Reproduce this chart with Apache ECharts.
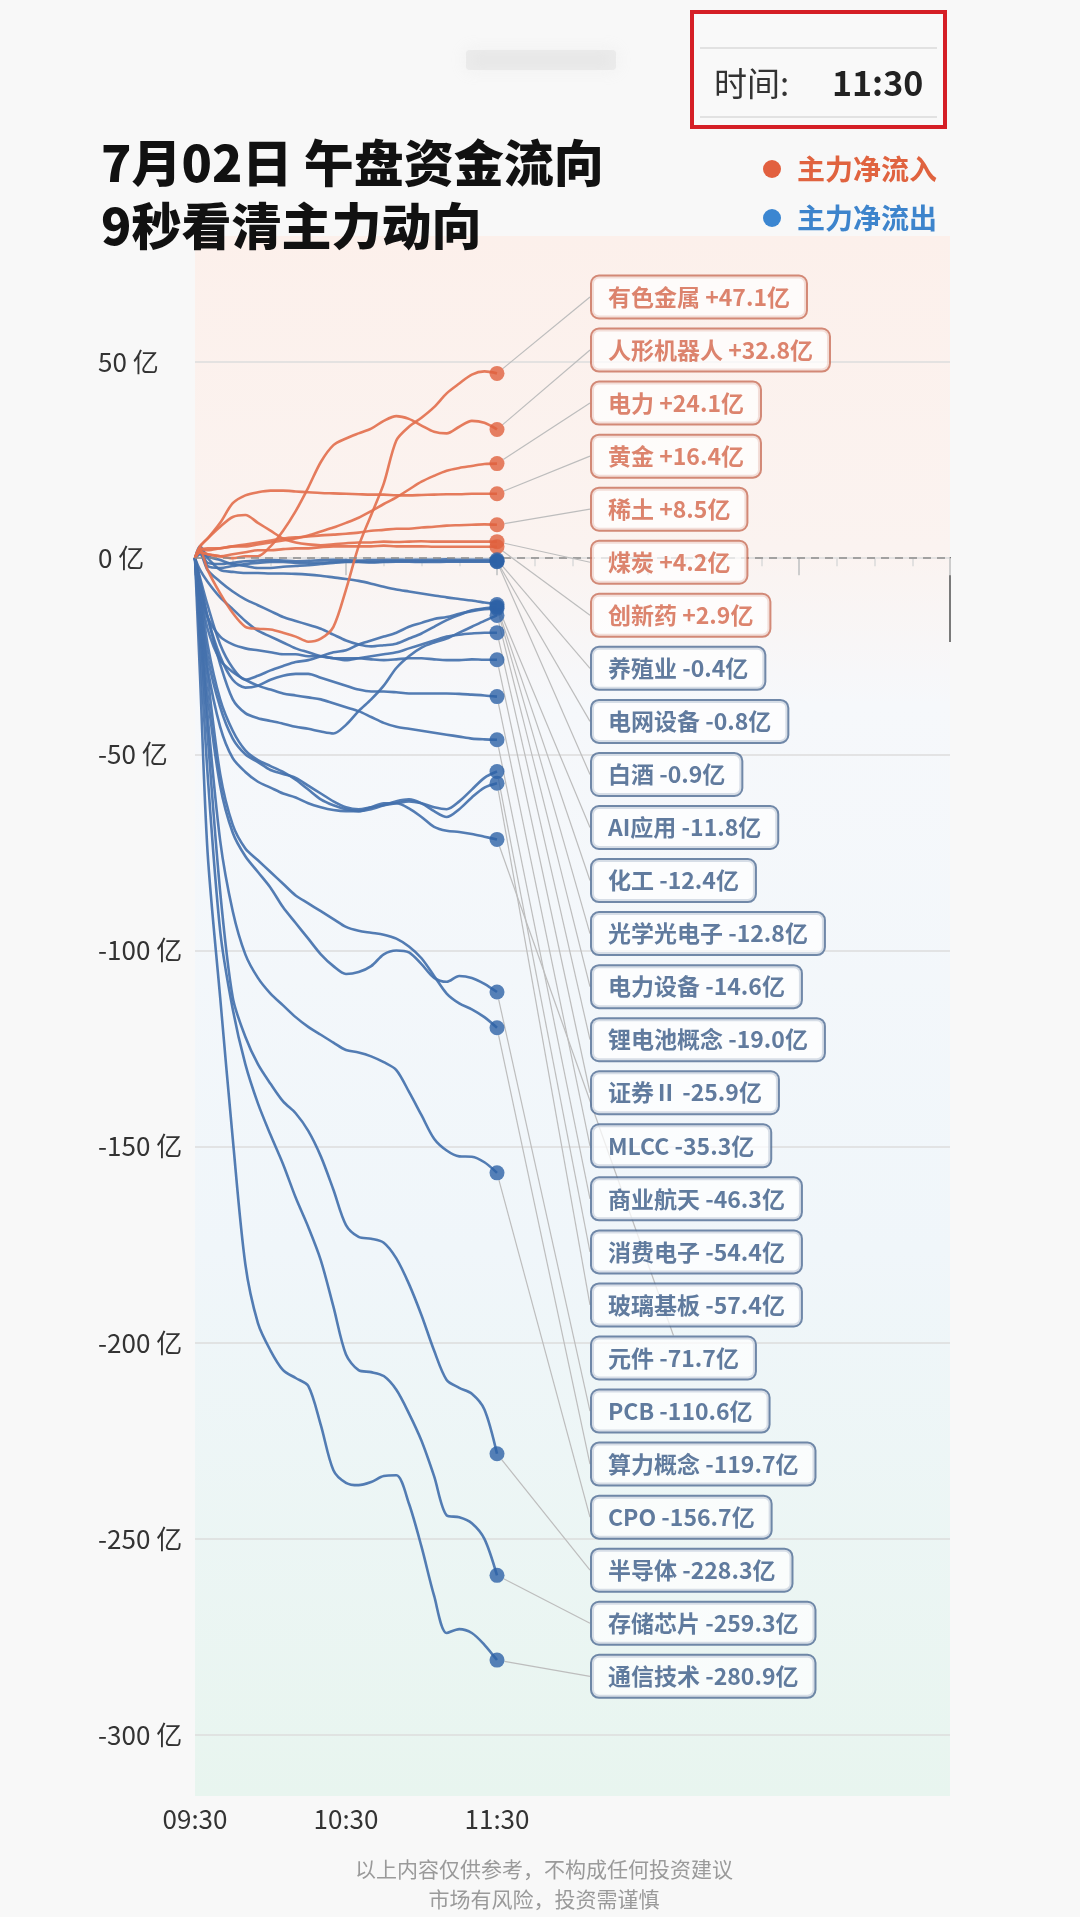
<!DOCTYPE html>
<html>
<head>
<meta charset="utf-8">
<title>7月02日 午盘资金流向</title>
<script src="https://cdn.jsdelivr.net/npm/echarts@6/dist/echarts.min.js"></script>
<style>
  html, body { margin: 0; padding: 0; background: #f8f8f8; }
  #main { width: 1080px; height: 1917px; }
</style>
</head>
<body>
<div id="main"></div>
<script>
// 横轴：从 09:30 起算的分钟数
const times = [0, 2, 5, 10, 15, 20, 25, 30, 35, 40, 45, 50, 55, 60, 65, 70, 75, 80, 85, 90, 95, 100, 105, 110, 115, 120];
const xTickLabels = ['09:30', '10:30', '11:30'];
const yTicks = [50, 0, -50, -100, -150, -200, -250, -300];

// 各板块主力净额（亿）
const youseJinshu = [0, 2, -3, -9, -14, -17.5, -18, -18.2, -19, -20, -21.3, -20.5, -17.5, -8, 3, 11, 19, 30, 33.5, 35.8, 38.5, 42, 44.5, 46.8, 47.6, 47.1];
const renxingJiqiren = [0, 1.5, 1, 0.5, 0, 0.5, 0.5, 3, 7, 12, 18, 24.5, 28.8, 30.5, 31.8, 33, 35, 36.2, 35.5, 33.8, 32.2, 31.8, 33.5, 35, 34.5, 32.8];
const dianli = [0, 2, 2.5, 2.5, 3, 3, 3.5, 4, 4.5, 5, 5.8, 6.8, 7.8, 9, 10.3, 12, 13.8, 15.5, 17.5, 19.5, 21, 22.3, 23, 23.5, 24, 24.1];
const huangjin = [0, 3, 5, 9, 14, 16, 16.8, 17.2, 17.2, 17, 16.8, 16.6, 16.5, 16.4, 16.3, 16.2, 16.2, 16, 16, 16.1, 16.2, 16.3, 16.3, 16.4, 16.4, 16.4];
const xitu = [0, 2.5, 2, 2.5, 3, 3.5, 4, 4.5, 5, 5.3, 5.5, 5.8, 6, 6.2, 6.5, 7, 7.2, 7.5, 7.5, 7.8, 8, 8.3, 8.4, 8.5, 8.6, 8.5];
const meitan = [0, 3, 5, 8, 10.5, 11, 9, 7, 5, 4, 3.5, 3.3, 3.5, 3.8, 4, 4, 4.2, 4.1, 4.2, 4.3, 4.2, 4.2, 4.2, 4.2, 4.2, 4.2];
const chuangxinyao = [0, 1.5, 1, 0.5, 1, 1.5, 2, 2, 2.3, 2.5, 2.5, 2.8, 3, 3, 3, 3, 3.2, 3, 3, 3, 2.9, 2.9, 2.9, 2.9, 2.9, 2.9];
const yangzhiye = [0, 2, -1.2, -1.5, -1.2, -0.8, -0.6, -0.5, -0.6, -0.8, -0.7, -0.5, -0.4, -0.5, -0.6, -0.5, -0.4, -0.4, -0.5, -0.4, -0.4, -0.3, -0.4, -0.4, -0.4, -0.4];
const dianwangShebei = [0, 1.5, -2, -2.5, -2, -1.5, -1.2, -1, -1, -1.2, -1.3, -1.1, -1, -0.9, -0.9, -1, -0.9, -0.8, -0.8, -0.9, -0.8, -0.8, -0.8, -0.8, -0.8, -0.8];
const baijiu = [0, 3, 0.5, -0.5, -1.5, -2, -2.5, -2.5, -2.2, -2, -1.8, -1.5, -1.2, -1, -1, -1.1, -1, -0.9, -0.9, -1, -1, -0.9, -0.9, -0.9, -0.9, -0.9];
const aiYingyong = [0, 2, 0, -3, -3.5, -3.8, -3.8, -3.9, -3.9, -4, -4.2, -4.5, -4.9, -5.3, -5.8, -6.5, -7.3, -8, -8.5, -9, -9.5, -10, -10.4, -10.8, -11.3, -11.8];
const huagong = [0, 1, -3, -6, -8.5, -10.5, -12, -13.5, -15, -16, -17, -18, -19.5, -21, -22, -22.5, -22.2, -21.8, -20.5, -19.2, -17.5, -15.8, -14.5, -13.3, -12.8, -12.4];
const guangxue = [0, -5, -12, -22, -28, -31, -30, -28.6, -27.5, -26.5, -26, -25, -24, -23.5, -22, -21, -20, -19, -17.5, -16.5, -15.5, -15, -14.2, -13.5, -13, -12.8];
const dianliShebei = [0, -6, -15, -27, -36, -39.5, -40.8, -41.5, -42.2, -43, -43.5, -44.2, -44.7, -42.5, -39, -36, -32.5, -28, -25, -22.8, -21.5, -20.5, -19, -17.5, -16, -14.6];
const lidianchi = [0, -3, -6, -10, -13, -16, -18.5, -20, -21.5, -23, -24, -25, -25.5, -26, -25.5, -25, -24.5, -24, -23, -22, -21, -20, -19.5, -19.2, -19, -19];
const zhengquan = [0, -8, -15, -20, -22, -23, -23.5, -24, -24.5, -24.5, -25, -25, -25.5, -25.5, -25.5, -25.8, -26, -25.8, -25.5, -25.5, -25.8, -26, -26, -25.8, -25.9, -25.9];
const mlcc = [0, -6, -15, -25, -31, -33, -32.5, -31, -30, -29.5, -29.5, -30.5, -31.5, -32.5, -33.5, -34, -34, -34.2, -34.5, -34.5, -34.5, -34.5, -34.6, -34.8, -35, -35.3];
const shangyeHangtian = [0, -8, -18, -26, -29, -31, -32.5, -33.5, -34.5, -35, -35.5, -36, -37, -38, -39, -40.5, -42, -43, -43.5, -44, -44.5, -45, -45.5, -46, -46.2, -46.3];
const xiaofeiDianzi = [0, -10, -25, -38, -46, -50, -52, -54, -55, -56, -58, -60, -62, -63.5, -64, -63.5, -63, -62.5, -62, -62.5, -63.5, -64, -62, -59, -56, -54.4];
const boliJiban = [0, -8, -22, -36, -44, -49, -51.5, -53, -54.5, -56.5, -59, -61.5, -63, -64, -64.5, -64, -63, -62, -61.5, -62.5, -64.5, -66, -64, -61, -58.5, -57.4];
const yuanjian = [0, -12, -28, -43, -51, -54.5, -57, -58.5, -60, -61, -62.5, -63.5, -64.2, -64.5, -64.5, -63.5, -62.5, -62.5, -63.8, -66, -68.5, -69.5, -69.8, -70.3, -71, -71.7];
const pcb = [0, -15, -35, -58, -70, -76, -80, -84, -89, -93, -97, -101, -104, -106, -105.5, -104, -101, -100, -100.5, -103.5, -107, -108, -106.5, -107, -108.5, -110.6];
const suanli = [0, -12, -30, -55, -68, -74, -77, -80, -83, -86, -88, -90, -92, -94, -95, -95.5, -96, -97, -99, -102, -106.5, -111, -113.5, -115, -117, -119.7];
const cpo = [0, -15, -40, -72, -90, -101, -107, -111, -114, -117, -119.5, -121.5, -123.5, -125.4, -126, -127, -128.5, -130.5, -136, -142, -148, -151, -152.5, -152.6, -154, -156.7];
const bandaoti = [0, -18, -45, -85, -112, -122, -129, -134, -138.5, -141.5, -146, -152.5, -161, -170, -173, -173.5, -174.5, -178.5, -185, -193, -202, -209.5, -211.5, -213, -217, -228.3];
const cunchuXinpian = [0, -22, -55, -95, -115, -129, -139, -147, -154.5, -163, -170.5, -179, -190.8, -203, -207, -207.5, -208.5, -212, -218, -225, -234, -244, -244.5, -246, -250, -259.3];
const tongxinJishu = [0, -30, -75, -112, -148, -180, -195, -202, -207, -209, -211, -221, -232.5, -235.7, -236.3, -235.5, -234, -233.8, -241, -252, -264.5, -274, -273, -274, -277, -280.9];

const sectors = ['有色金属', '人形机器人', '电力', '黄金', '稀土', '煤炭', '创新药', '养殖业', '电网设备', '白酒',
  'AI应用', '化工', '光学光电子', '电力设备', '锂电池概念', '证券Ⅱ', 'MLCC', '商业航天', '消费电子', '玻璃基板',
  '元件', 'PCB', '算力概念', 'CPO', '半导体', '存储芯片', '通信技术'];
const flows = [youseJinshu, renxingJiqiren, dianli, huangjin, xitu, meitan, chuangxinyao, yangzhiye, dianwangShebei, baijiu,
  aiYingyong, huagong, guangxue, dianliShebei, lidianchi, zhengquan, mlcc, shangyeHangtian, xiaofeiDianzi, boliJiban,
  yuanjian, pcb, suanli, cpo, bandaoti, cunchuXinpian, tongxinJishu];

const FONT = 'Noto Sans CJK SC';
const RED_LINE = '#e3714f', BLUE_LINE = '#4471ad';
const RED_DOT = '#e0603d', BLUE_DOT = '#2d62a6';

const chart = echarts.init(document.getElementById('main'), null, { renderer: 'canvas' });

let lineSeries = [];
sectors.forEach((name, i) => {
  const vals = flows[i];
  const up = vals[vals.length - 1] > 0;
  lineSeries.push({
    name: name,
    type: 'line',
    data: times.map((t, k) => [t, vals[k]]),
    showSymbol: false,
    smooth: 0.3,
    silent: true,
    z: up ? 3 : 2,
    lineStyle: { width: 2.6, color: up ? RED_LINE : BLUE_LINE, opacity: 0.92 }
  });
});
// 蓝线先画，红线压在上面
lineSeries.sort((a, b) => a.z - b.z);

// 0 轴虚线
lineSeries[0].markLine = {
  silent: true,
  symbol: 'none',
  label: { show: false },
  lineStyle: { type: [8, 6], color: '#8c8c8c', width: 1.5 },
  data: [{ yAxis: 0 }]
};

// 11:30 端点 + 标签框
const endPoints = sectors.map((name, i) => {
  const vals = flows[i];
  const v = vals[vals.length - 1];
  const up = v > 0;
  return {
    name: name,
    value: [times[times.length - 1], v],
    itemStyle: { color: up ? RED_DOT : BLUE_DOT },
    label: {
      color: up ? '#d3654a' : '#3a5a86',
      borderColor: up ? '#c86e58' : '#4f6b93'
    }
  };
});

let option = {
  backgroundColor: '#f8f8f8',
  animation: false,
  textStyle: { fontFamily: FONT },
  grid: { left: 195, right: 130, top: 362, bottom: 182, containLabel: false, outerBoundsMode: 'none' },
  xAxis: {
    type: 'value',
    min: 0,
    max: 300,
    interval: 60,
    offset: 43,
    axisLine: { show: false },
    axisTick: { show: true, length: 17, lineStyle: { color: '#cdcdcd', width: 2 } },
    minorTick: { show: true, splitNumber: 4, length: 8, lineStyle: { color: '#dadada', width: 1.5 } },
    splitLine: { show: false },
    axisLabel: {
      margin: 28,
      fontSize: 26,
      color: '#333',
      formatter: function (v) {
        return xTickLabels[v / 60] || '';
      }
    }
  },
  yAxis: {
    type: 'value',
    min: yTicks[yTicks.length - 1],
    max: yTicks[0],
    interval: 50,
    axisLine: { show: false },
    axisTick: { show: false },
    splitLine: { lineStyle: { color: '#dcdcdc', width: 1.5 } },
    axisLabel: {
      showMinLabel: true,
      showMaxLabel: true,
      align: 'left',
      margin: 97,
      fontSize: 26,
      color: '#333',
      formatter: function (v) {
        return v + ' 亿';
      }
    }
  },
  series: lineSeries.concat([{
    type: 'scatter',
    data: endPoints,
    symbolSize: 15,
    z: 10,
    silent: true,
    label: {
      show: true,
      fontFamily: FONT,
      fontSize: 23,
      fontWeight: 'bold',
      lineHeight: 23,
      padding: [9, 16],
      borderWidth: 2,
      borderRadius: 7,
      backgroundColor: 'rgba(255,255,255,0.9)',
      formatter: function (p) {
        const v = p.value[1];
        return p.name + ' ' + (v > 0 ? '+' : '') + v.toFixed(1) + '亿';
      }
    },
    labelLine: { show: true, lineStyle: { color: '#bdbdbd', width: 1.2 } },
    labelLayout: function (p) {
      return { x: 592, y: 297 + p.dataIndex * 53.05, align: 'left', verticalAlign: 'middle' };
    }
  }]),
  graphic: [
    // 图表区渐变底色
    {
      type: 'rect', z: -10, silent: true,
      shape: { x: 195, y: 236, width: 755, height: 1560 },
      style: {
        fill: {
          type: 'linear', x: 0, y: 0, x2: 0, y2: 1,
          colorStops: [
            { offset: 0, color: '#fcf0eb' },
            { offset: 0.2, color: '#fbf3f0' },
            { offset: 0.3, color: '#f6f8fb' },
            { offset: 0.65, color: '#f0f6fa' },
            { offset: 1, color: '#e8f5ef' }
          ]
        }
      }
    },
    // 时间框
    {
      type: 'rect', silent: true,
      shape: { x: 692, y: 12, width: 253, height: 115 },
      style: { fill: '#f9f9f9', stroke: '#d51f26', lineWidth: 4 }
    },
    { type: 'line', silent: true, shape: { x1: 700, y1: 48, x2: 937, y2: 48 }, style: { stroke: '#dadada', lineWidth: 1.5 } },
    { type: 'line', silent: true, shape: { x1: 700, y1: 117, x2: 937, y2: 117 }, style: { stroke: '#dadada', lineWidth: 1.5 } },
    { type: 'text', silent: true, x: 714, y: 83, style: { text: '时间:', font: '33px "Noto Sans CJK SC"', fill: '#333', verticalAlign: 'middle' } },
    { type: 'text', silent: true, x: 832, y: 83, style: { text: '11:30', font: 'bold 34px "Noto Sans CJK SC"', fill: '#222', verticalAlign: 'middle' } },
    // 模糊水印
    {
      type: 'rect', silent: true,
      shape: { x: 466, y: 50, width: 150, height: 20, r: 4 },
      style: { fill: 'rgba(215,215,215,0.35)', shadowBlur: 16, shadowColor: 'rgba(210,210,210,0.6)' }
    },
    // 标题
    { type: 'text', silent: true, x: 101, y: 163, style: { text: '7月02日 午盘资金流向', font: '900 50px "Noto Sans CJK SC"', fill: '#111', verticalAlign: 'middle' } },
    { type: 'text', silent: true, x: 101, y: 226, style: { text: '9秒看清主力动向', font: '900 50px "Noto Sans CJK SC"', fill: '#111', verticalAlign: 'middle' } },
    // 图例
    { type: 'circle', silent: true, shape: { cx: 772, cy: 169, r: 9 }, style: { fill: '#e2603f' } },
    { type: 'text', silent: true, x: 797, y: 169, style: { text: '主力净流入', font: 'bold 28px "Noto Sans CJK SC"', fill: '#e0633f', verticalAlign: 'middle' } },
    { type: 'circle', silent: true, shape: { cx: 772, cy: 218, r: 9 }, style: { fill: '#3b86d1' } },
    { type: 'text', silent: true, x: 797, y: 218, style: { text: '主力净流出', font: 'bold 28px "Noto Sans CJK SC"', fill: '#3d84cc', verticalAlign: 'middle' } },
    // 右侧竖线
    { type: 'line', silent: true, shape: { x1: 950, y1: 557, x2: 950, y2: 642 }, style: { stroke: '#7a7a7a', lineWidth: 2 } },
    // 底部提示
    { type: 'text', silent: true, x: 544, y: 1869, style: { text: '以上内容仅供参考，不构成任何投资建议', font: '21px "Noto Sans CJK SC"', fill: '#9a9a9a', align: 'center', verticalAlign: 'middle' } },
    { type: 'text', silent: true, x: 544, y: 1899, style: { text: '市场有风险，投资需谨慎', font: '21px "Noto Sans CJK SC"', fill: '#9a9a9a', align: 'center', verticalAlign: 'middle' } }
  ]
};
chart.setOption(option);
</script>
</body>
</html>
